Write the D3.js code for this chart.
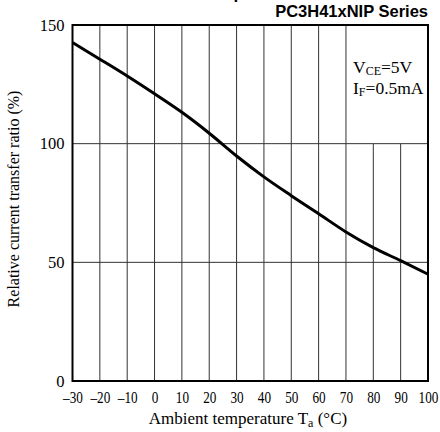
<!DOCTYPE html>
<html>
<head>
<meta charset="utf-8">
<script src="https://cdn.jsdelivr.net/npm/d3@7"></script>
<style>
body { margin: 0; background: #fff; }
svg { display: block; }
.tick text { font-family: "Liberation Serif", "Times New Roman", serif; font-size: 16.5px; fill: #000; }
</style>
</head>
<body>
<div id="chart"></div>
<script>
// values
var temps = [-30, -20, -10, 0, 10, 20, 30, 40, 50, 60, 70, 80, 90, 100];
var ctrRatio = [142.6, 135.6, 128.5, 121.0, 113.2, 104.4, 94.8, 86.0, 78.1, 70.5, 62.8, 56.2, 50.7, 45];
var xTicks = [-30, -20, -10, 0, 10, 20, 30, 40, 50, 60, 70, 80, 90, 100];
var yTicks = [0, 50, 100, 150];
// grid lines that stop at 100% (the note box sits above them)
var shortGrid = [80, 90];

var w = 440;
var h = 432;
var plotL = 72.5, plotR = 428, plotT = 25, plotB = 381;

var svg = d3.select("#chart").append("svg").attr("width", w).attr("height", h);

var xScale = d3.scaleLinear().domain([-30, 100]).range([plotL, plotR]);
var yScale = d3.scaleLinear().domain([0, 150]).range([plotB, plotT]);

// title, cut off by the top edge
svg.append("text")
    .attr("x", 127).attr("y", -1)
    .style("font-family", "Liberation Sans, Arial, sans-serif")
    .style("font-weight", "bold").style("font-size", "17px")
    .text("Ambient Temperature");

svg.append("text")
    .attr("x", plotR).attr("y", 17)
    .attr("text-anchor", "end")
    .style("font-family", "Liberation Sans, Arial, sans-serif")
    .style("font-weight", "bold").style("font-size", "16.5px")
    .text("PC3H41xNIP Series");

// grid
var grid = svg.append("g");
grid.selectAll(".vline").data(xTicks.slice(1, -1)).enter().append("line")
    .attr("x1", function(d) { return xScale(d); })
    .attr("x2", function(d) { return xScale(d); })
    .attr("y1", function(d) { return shortGrid.indexOf(d) >= 0 ? yScale(100) : yScale(150); })
    .attr("y2", yScale(0))
    .attr("stroke", "#333").attr("stroke-width", 1);
grid.selectAll(".hline").data([50, 100]).enter().append("line")
    .attr("x1", xScale(-30)).attr("x2", xScale(100))
    .attr("y1", function(d) { return yScale(d); })
    .attr("y2", function(d) { return yScale(d); })
    .attr("stroke", "#333").attr("stroke-width", 1);

// frame
svg.append("rect")
    .attr("x", plotL).attr("y", plotT)
    .attr("width", plotR - plotL).attr("height", plotB - plotT)
    .attr("fill", "none").attr("stroke", "#000").attr("stroke-width", 2);

// axes (labels only)
var xAxis = d3.axisBottom(xScale).tickValues(xTicks).tickSize(0).tickPadding(10)
    .tickFormat(function(d) { return d < 0 ? "\u2013" + Math.abs(d) : d; });
var yAxis = d3.axisLeft(yScale).tickValues(yTicks).tickSize(0).tickPadding(8);

var gx = svg.append("g").attr("transform", "translate(0," + plotB + ")").call(xAxis);
var gy = svg.append("g").attr("transform", "translate(" + plotL + ",0)").call(yAxis);
gx.select(".domain").remove();
gy.select(".domain").remove();
// the x labels are set narrow in the original
gx.selectAll(".tick text").attr("transform", "scale(0.8,1)");

// curve
var pts = temps.map(function(t, i) { return { t: t, v: ctrRatio[i] }; });
var line = d3.line()
    .x(function(d) { return xScale(d.t); })
    .y(function(d) { return yScale(d.v); })
    .curve(d3.curveMonotoneX);
svg.append("path").datum(pts)
    .attr("d", line)
    .attr("fill", "none").attr("stroke", "#000").attr("stroke-width", 3);

// conditions note
var serif = "Liberation Serif, Times New Roman, serif";
var n1 = svg.append("text").attr("x", 353).attr("y", 73)
    .style("font-family", serif).style("font-size", "17.5px");
n1.append("tspan").text("V");
n1.append("tspan").style("font-size", "12px").attr("dy", 2).text("CE");
n1.append("tspan").attr("dy", -2).text("=5V");
var n2 = svg.append("text").attr("x", 353).attr("y", 94)
    .style("font-family", serif).style("font-size", "17.5px");
n2.append("tspan").text("I");
n2.append("tspan").style("font-size", "12px").attr("dy", 2).text("F");
n2.append("tspan").attr("dy", -2).text("=0.5mA");

// axis titles
var xl = svg.append("text").attr("x", 248).attr("y", 424)
    .attr("text-anchor", "middle")
    .style("font-family", serif).style("font-size", "17px");
xl.append("tspan").text("Ambient temperature T");
xl.append("tspan").style("font-size", "12px").attr("dy", 3).text("a");
xl.append("tspan").attr("dy", -3).text(" (\u00B0C)");

svg.append("text")
    .attr("transform", "translate(19,199) rotate(-90)")
    .attr("text-anchor", "middle")
    .style("font-family", serif).style("font-size", "16px")
    .text("Relative current transfer ratio (%)");
</script>
</body>
</html>
